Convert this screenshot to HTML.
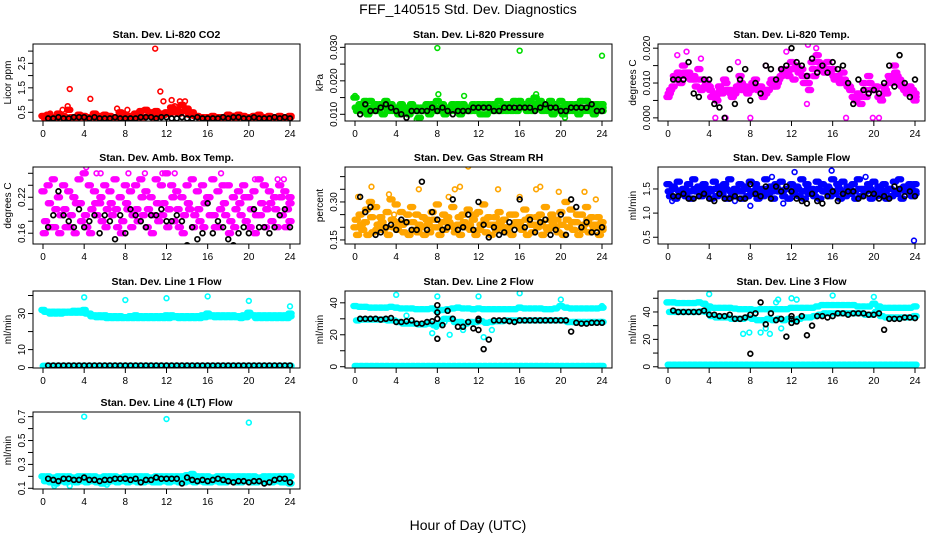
<!DOCTYPE html>
<html><head><meta charset="utf-8"><style>
body{margin:0;background:#fff}
svg{display:block;font-family:"Liberation Sans",sans-serif}
</style></head><body>
<svg id="chart" width="936" height="540" viewBox="0 0 936 540">
<rect width="936" height="540" fill="#fff"/>
<text x="468" y="14" font-size="14" text-anchor="middle">FEF_140515  Std. Dev. Diagnostics</text>
<text x="468" y="530" font-size="14" text-anchor="middle">Hour of Day (UTC)</text>
</svg>
<script>
const xTicks=[0,4,8,12,16,20,24];
// P1 CO2
const p1Red=[0.35,0.4,0.3,0.45,0.35,0.6,0.3,0.4,0.35,0.3,0.45,0.35,0.4,0.35,0.3,0.5,0.4,0.35,0.45,0.55,0.6,0.5,0.55,0.45,0.5,0.7,0.6,0.8,0.65,0.5,0.35,0.3,0.3,0.35,0.3,0.3,0.4,0.35,0.4,0.35,0.3,0.35,0.4,0.3,0.35,0.3,0.35,0.3,0.35];
const p1RedB=[0.25,0.3,0.25,0.3,0.25,0.3,0.25,0.3,0.25,0.3,0.25,0.3,0.25,0.3,0.3,0.25,0.3,0.25,0.3,0.3,0.35,0.3,0.35,0.4,0.45,0.5,0.45,0.55,0.4,0.35,0.3,0.25,0.3,0.25,0.3,0.25,0.3,0.25,0.3,0.25,0.3,0.25,0.3,0.25,0.3,0.25,0.3,0.25,0.3];
const p1OutX=[0.7,1.9,2.4,2.6,4.6,7.2,8.2,10.9,11.4,11.7,12.5,13.3,13.8,12.8];
const p1OutY=[0.45,0.6,0.75,1.45,1.05,0.65,0.6,3.1,1.35,0.95,1.0,0.95,0.95,0.75];
const p1Blk=[0.25,0.25,0.3,0.25,0.25,0.3,0.3,0.3,0.25,0.3,0.25,0.25,0.25,0.3,0.25,0.25,0.25,0.25,0.3,0.3,0.3,0.25,0.3,0.3,0.25,0.25,0.3,0.25,0.25,0.3,0.25,0.25,0.25,0.25,0.3,0.25,0.3,0.3,0.25,0.25,0.3,0.25,0.25,0.25,0.3,0.25,0.3,0.25];
// P2 pressure
const p2A=[0.015,0.013,0.014,0.014,0.013,0.013,0.014,0.013,0.012,0.013,0.012,0.013,0.012,0.012,0.013,0.013,0.014,0.013,0.012,0.013,0.013,0.013,0.012,0.013,0.013,0.013,0.013,0.013,0.014,0.013,0.013,0.014,0.014,0.013,0.014,0.015,0.014,0.013,0.014,0.013,0.014,0.013,0.013,0.013,0.014,0.014,0.013,0.013,0.013];
const p2B=[0.011,0.011,0.010,0.011,0.011,0.010,0.011,0.011,0.010,0.011,0.010,0.011,0.009,0.011,0.010,0.011,0.011,0.010,0.011,0.011,0.010,0.011,0.011,0.011,0.010,0.010,0.011,0.011,0.011,0.011,0.011,0.011,0.012,0.011,0.011,0.012,0.011,0.011,0.010,0.011,0.010,0.011,0.011,0.010,0.011,0.011,0.010,0.011,0.011];
const p2C=[0.012,0.012,0.012,0.012,0.012,0.012,0.012,0.012,0.011,0.012,0.011,0.012,0.011,0.011,0.012,0.012,0.012,0.012,0.011,0.012,0.012,0.012,0.011,0.012,0.012,0.012,0.012,0.012,0.012,0.012,0.012,0.012,0.013,0.012,0.012,0.013,0.012,0.012,0.012,0.012,0.012,0.012,0.012,0.012,0.012,0.012,0.012,0.012,0.012];
const p2OutX=[0,8,8.1,16,24,17.6,6,10.6,20.4];
const p2OutY=[0.0155,0.0298,0.016,0.029,0.0275,0.016,0.0085,0.0155,0.009];
const p2Blk=[0.010,0.013,0.011,0.011,0.012,0.013,0.012,0.011,0.010,0.009,0.011,0.011,0.011,0.011,0.012,0.011,0.012,0.011,0.010,0.011,0.011,0.011,0.012,0.012,0.012,0.012,0.011,0.011,0.012,0.012,0.012,0.012,0.012,0.012,0.011,0.012,0.013,0.012,0.012,0.011,0.011,0.012,0.012,0.012,0.012,0.013,0.011,0.011];
// P3 Li-820 temp
const p3A=[0.006,0.009,0.013,0.015,0.013,0.012,0.014,0.011,0.009,0.007,0.009,0.011,0.008,0.007,0.012,0.009,0.008,0.011,0.009,0.007,0.010,0.009,0.012,0.014,0.016,0.015,0.014,0.012,0.016,0.018,0.015,0.016,0.014,0.012,0.013,0.009,0.006,0.007,0.010,0.012,0.008,0.006,0.009,0.012,0.015,0.011,0.008,0.009,0.006];
const p3B=[0.008,0.011,0.010,0.012,0.011,0.009,0.008,0.010,0.006,0.005,0.007,0.008,0.006,0.009,0.008,0.007,0.010,0.008,0.006,0.008,0.009,0.011,0.013,0.012,0.011,0.013,0.010,0.008,0.012,0.014,0.013,0.013,0.011,0.010,0.010,0.008,0.005,0.004,0.006,0.008,0.009,0.005,0.007,0.010,0.012,0.009,0.007,0.008,0.005];
const p3C=[0.007,0.012,0.012,0.013,0.012,0.011,0.011,0.009,0.008,0.006,0.008,0.010,0.007,0.008,0.010,0.008,0.009,0.009,0.008,0.008,0.011,0.010,0.014,0.013,0.014,0.014,0.012,0.010,0.014,0.016,0.014,0.014,0.012,0.011,0.011,0.009,0.006,0.006,0.008,0.010,0.008,0.006,0.008,0.011,0.013,0.010,0.008,0.008,0.007];
const p3OutX=[4.6,5.6,8,17.3,19.9,20.5,6.8,13.6,14.4,13.5,0.9,1.8,3.2,9.5,11.5];
const p3OutY=[0,0,0,0,0,0,0.016,0.021,0.02,0.004,0.018,0.019,0.017,0.015,0.019];
const p3Blk=[0.011,0.011,0.011,0.016,0.007,0.006,0.011,0.011,0.004,0.003,0.0,0.014,0.004,0.011,0.014,0.005,0.010,0.007,0.015,0.014,0.011,0.014,0.015,0.020,0.016,0.015,0.012,0.017,0.013,0.015,0.013,0.016,0.014,0.015,0.010,0.004,0.011,0.008,0.007,0.008,0.007,0.010,0.015,0.009,0.018,0.010,0.006,0.011];
// P4 amb box temp
const p4A=[0.23,0.24,0.25,0.22,0.24,0.23,0.22,0.25,0.26,0.24,0.23,0.21,0.24,0.23,0.25,0.22,0.24,0.23,0.24,0.25,0.23,0.22,0.25,0.24,0.26,0.24,0.23,0.22,0.24,0.25,0.23,0.24,0.22,0.25,0.23,0.24,0.24,0.22,0.23,0.24,0.22,0.23,0.25,0.24,0.23,0.22,0.24,0.23,0.22];
const p4B=[0.18,0.17,0.20,0.19,0.17,0.19,0.21,0.18,0.17,0.20,0.19,0.18,0.20,0.19,0.17,0.18,0.20,0.19,0.18,0.19,0.20,0.19,0.18,0.21,0.20,0.18,0.17,0.19,0.20,0.19,0.18,0.21,0.19,0.17,0.20,0.19,0.18,0.20,0.19,0.18,0.20,0.19,0.21,0.20,0.18,0.17,0.19,0.20,0.18];
const p4C=[0.16,0.21,0.17,0.16,0.20,0.17,0.16,0.21,0.19,0.16,0.21,0.22,0.17,0.21,0.20,0.16,0.21,0.17,0.20,0.22,0.17,0.16,0.21,0.19,0.17,0.22,0.20,0.16,0.21,0.17,0.20,0.17,0.22,0.19,0.17,0.21,0.16,0.17,0.21,0.22,0.17,0.16,0.19,0.17,0.21,0.20,0.22,0.17,0.21];
const p4OutX=[4.2,5.2,5.6,8.3,9.9,11.6,12.8,16.5,17.3,20.6,22.8,23.4];
const p4OutY=[0.27,0.26,0.26,0.26,0.26,0.26,0.26,0.25,0.26,0.25,0.25,0.25];
const p4Blk=[0.17,0.19,0.23,0.19,0.18,0.17,0.20,0.17,0.18,0.19,0.16,0.19,0.18,0.15,0.19,0.16,0.20,0.19,0.18,0.17,0.19,0.19,0.20,0.18,0.18,0.19,0.18,0.14,0.17,0.15,0.16,0.21,0.16,0.18,0.17,0.15,0.14,0.16,0.17,0.16,0.20,0.17,0.17,0.16,0.17,0.19,0.20,0.17];
// P5 RH
const p5A=[0.20,0.25,0.22,0.30,0.28,0.24,0.20,0.31,0.29,0.26,0.22,0.28,0.25,0.20,0.23,0.26,0.29,0.22,0.24,0.28,0.21,0.25,0.27,0.23,0.26,0.29,0.24,0.21,0.26,0.23,0.20,0.25,0.22,0.27,0.24,0.21,0.25,0.28,0.23,0.20,0.26,0.30,0.27,0.22,0.25,0.28,0.24,0.21,0.20];
const p5B=[0.17,0.19,0.17,0.18,0.21,0.19,0.17,0.20,0.22,0.18,0.17,0.19,0.21,0.17,0.18,0.20,0.17,0.19,0.21,0.18,0.17,0.20,0.19,0.17,0.21,0.18,0.17,0.19,0.20,0.18,0.17,0.21,0.19,0.17,0.18,0.20,0.17,0.19,0.21,0.18,0.17,0.20,0.19,0.17,0.21,0.18,0.20,0.17,0.19];
const p5C=[0.23,0.21,0.27,0.24,0.19,0.22,0.26,0.23,0.19,0.21,0.25,0.22,0.18,0.24,0.21,0.23,0.20,0.25,0.22,0.20,0.24,0.22,0.21,0.25,0.19,0.23,0.21,0.24,0.22,0.20,0.25,0.22,0.20,0.23,0.21,0.24,0.22,0.20,0.25,0.23,0.21,0.23,0.22,0.25,0.19,0.23,0.21,0.24,0.22];
const p5OutX=[0.3,1.6,3.3,6.2,9.7,10.2,11,13.9,16,17.6,18,19.8,22.3,23.4,3.8,9.1];
const p5OutY=[0.32,0.36,0.33,0.35,0.35,0.36,0.44,0.35,0.32,0.35,0.36,0.34,0.34,0.31,0.25,0.32];
const p5Blk=[0.32,0.26,0.28,0.17,0.18,0.20,0.21,0.19,0.23,0.22,0.19,0.19,0.38,0.19,0.26,0.23,0.19,0.20,0.31,0.19,0.20,0.25,0.19,0.30,0.21,0.16,0.20,0.17,0.18,0.22,0.19,0.31,0.20,0.23,0.18,0.22,0.23,0.17,0.19,0.25,0.17,0.31,0.28,0.20,0.22,0.18,0.18,0.20];
// P6 sample flow
const p6A=[1.6,1.55,1.65,1.5,1.6,1.7,1.55,1.6,1.5,1.65,1.55,1.6,1.7,1.5,1.6,1.55,1.65,1.6,1.5,1.7,1.55,1.6,1.65,1.5,1.6,1.55,1.7,1.6,1.5,1.65,1.6,1.55,1.7,1.6,1.65,1.55,1.6,1.7,1.5,1.6,1.65,1.55,1.6,1.5,1.65,1.7,1.55,1.6,1.6];
const p6B=[1.35,1.3,1.4,1.35,1.3,1.45,1.35,1.4,1.3,1.35,1.4,1.3,1.35,1.45,1.3,1.35,1.4,1.3,1.35,1.4,1.3,1.45,1.35,1.3,1.4,1.35,1.3,1.4,1.35,1.3,1.45,1.35,1.4,1.3,1.35,1.4,1.3,1.35,1.45,1.3,1.35,1.4,1.3,1.35,1.4,1.3,1.45,1.35,1.4];
const p6C=[1.45,1.5,1.45,1.5,1.45,1.5,1.45,1.5,1.45,1.5,1.45,1.5,1.45,1.5,1.45,1.5,1.45,1.5,1.45,1.5,1.45,1.5,1.45,1.5,1.45,1.5,1.45,1.5,1.45,1.5,1.45,1.5,1.45,1.5,1.45,1.5,1.45,1.5,1.45,1.5,1.45,1.5,1.45,1.5,1.45,1.5,1.45,1.5,1.45];
const p6OutX=[8,12.3,15.9,10.1,11.2,0.4,23.9,6.5,19.2];
const p6OutY=[1.15,1.85,1.88,1.75,1.2,1.25,0.43,1.25,1.75];
const p6Blk=[1.35,1.35,1.4,1.3,1.3,1.35,1.4,1.3,1.25,1.4,1.3,1.3,1.35,1.3,1.3,1.6,1.4,1.35,1.55,1.3,1.55,1.45,1.55,1.45,1.3,1.25,1.2,1.4,1.25,1.2,1.35,1.45,1.25,1.4,1.45,1.45,1.3,1.35,1.4,1.4,1.3,1.35,1.3,1.55,1.5,1.35,1.45,1.35];
// P7 line 1
const p7A=[32,31,31,31,31,31,31.5,31.5,32,30,29,29,29,28.5,28.5,28.5,28,28.5,29,28.5,28.5,28.5,28.5,28.5,29,29,28.5,28.5,28.5,28.5,28.5,29,30,29,29,29,29,29,28.5,29,30.5,29,29,29,29,29,29,29,30];
const p7B=[31,30,30,30,30.5,30.5,30.5,30.5,30,28.5,28,28,27.5,27.5,27.5,27.5,27.5,27.5,27.5,27.5,27.5,27.5,27.5,27.5,27.5,28,27.5,27.5,27.5,27.5,27.5,28,28.5,28,28,28,28,28,27.5,28,29,27.5,27.5,27.5,27.5,27.5,27.5,27.5,28.5];
const p7C=[1,1,1,1,1,1,1,1,1,1,1,1,1,1,1,1,1,1,1,1,1,1,1,1,1,1,1,1,1,1,1,1,1,1,1,1,1,1,1,1,1,1,1,1,1,1,1,1,1];
const p7OutX=[4,8,12,16,20,24];
const p7OutY=[39,37.5,38.5,39.5,37,34];
const p7Blk=[1.2,1.2,1.2,1.2,1.2,1.2,1.2,1.2,1.2,1.2,1.2,1.2,1.2,1.2,1.2,1.2,1.2,1.2,1.2,1.2,1.2,1.2,1.2,1.2,1.2,1.2,1.2,1.2,1.2,1.2,1.2,1.2,1.2,1.2,1.2,1.2,1.2,1.2,1.2,1.2,1.2,1.2,1.2,1.2,1.2,1.2,1.2,1.2];
// P8 line 2
const p8A=[38,37.5,37.5,37,37,37,37,37.5,37,36.5,36.5,36.5,36,36,36,36.5,35,35.5,36,36.5,37,36.5,36.5,36,36.5,36,36,36,36,36,36,36,37,36.5,36.5,36.5,36.5,36,36,36.5,38,37,36.5,36.5,36.5,36.5,36.5,36.5,37];
const p8B=[29,29.5,29.5,29.5,29.5,29.5,29,29,28,27,27,27,26.5,26.5,27,26,27,30,30,28,28,27,28,28,28.5,27.5,28,28.5,28.5,29,29,29,29,29,29,29,29,29,29,29,29,28,28,28,28,28,28,28,28];
const p8C=[0.5,0.5,0.5,0.5,0.5,0.5,0.5,0.5,0.5,0.5,0.5,0.5,0.5,0.5,0.5,0.5,0.5,0.5,0.5,0.5,0.5,0.5,0.5,0.5,0.5,0.5,0.5,0.5,0.5,0.5,0.5,0.5,0.5,0.5,0.5,0.5,0.5,0.5,0.5,0.5,0.5,0.5,0.5,0.5,0.5,0.5,0.5,0.5,0.5];
const p8OutX=[4,8,12,16,20,24,7.5,9.2,12.5,13.3,7.9,10.5,8.7,5];
const p8OutY=[45,44,44,46,42,38,21,20,18.5,23,25,23,28,32];
const p8Blk=[30,30,30,30,29.5,30,30.5,28,28,28.5,29,27,27,28,28.5,30,26,35,30,25,25,28,24,29,11,17,29,29,29,28.5,28,29,29,29,29,29,29,29,29,29,29,22,27.5,27,27,27.5,27.5,27.5];
const p8BlkOutX=[8,8,8,12,12];
const p8BlkOutY=[34,38.5,17.5,23,30];
// P9 line 3
const p9A=[47,47,46.5,46.5,46.5,46.5,47,46,44,43,43,43,43,42.5,42,42,42,41.5,42,42,42,42,42,42,43,43,43,43,43,44,45,45,45,45,45,45,45,44,44,44,46,44,43,43,43,43,43,43,44];
const p9B=[40,40,40,40,40,40,40.5,40,37,36,36,36,35,35,35,36,35,34,34,35,34,35,34,35,34,35,36,36,37,38,39,39,39,39,39,39,39,39,38,38,40,37,36,36,36,36,36,36,37];
const p9C=[1.5,1.5,1.5,1.5,1.5,1.5,1.5,1.5,1.5,1.5,1.5,1.5,1.5,1.5,1.5,1.5,1.5,1.5,1.5,1.5,1.5,1.5,1.5,1.5,1.5,1.5,1.5,1.5,1.5,1.5,1.5,1.5,1.5,1.5,1.5,1.5,1.5,1.5,1.5,1.5,1.5,1.5,1.5,1.5,1.5,1.5,1.5,1.5,1.5];
const p9OutX=[4,7.3,7.9,9,9.9,10.5,10.7,12,12.5,16,20,24,11,9.5];
const p9OutY=[53,24,25,25,24,47,49,50,49,52,51,44,28,28];
const p9Blk=[41,40,40,40,40,40,41,38,38,37,37,38,35,35,36,38,39,47,31,39,34,35,22,35,33,37,23,30,37,37,36,37,39,39,38,39,39,39,38,38,39,27,35,35,35,36,36,35.5];
const p9BlkOutX=[8,12,12];
const p9BlkOutY=[9.5,37,32];
// P10 line 4
const p10A=[0.2,0.2,0.19,0.2,0.2,0.2,0.19,0.2,0.2,0.2,0.2,0.19,0.2,0.2,0.2,0.19,0.2,0.2,0.2,0.2,0.2,0.19,0.2,0.2,0.2,0.2,0.2,0.2,0.21,0.22,0.2,0.2,0.2,0.19,0.2,0.2,0.2,0.2,0.2,0.2,0.2,0.2,0.19,0.2,0.2,0.2,0.2,0.2,0.2];
const p10B=[0.16,0.15,0.14,0.16,0.15,0.16,0.15,0.16,0.15,0.16,0.15,0.14,0.15,0.16,0.15,0.16,0.15,0.16,0.15,0.15,0.16,0.15,0.15,0.16,0.15,0.16,0.15,0.15,0.16,0.15,0.16,0.15,0.15,0.16,0.15,0.15,0.16,0.15,0.15,0.16,0.15,0.15,0.16,0.15,0.15,0.16,0.15,0.15,0.14];
const p10OutX=[4,12,20,1.1,2.6,6.2];
const p10OutY=[0.7,0.68,0.65,0.12,0.12,0.13];
const p10Blk=[0.18,0.17,0.16,0.18,0.18,0.17,0.17,0.19,0.17,0.17,0.16,0.17,0.17,0.18,0.18,0.18,0.17,0.18,0.15,0.17,0.17,0.19,0.18,0.18,0.18,0.18,0.14,0.19,0.17,0.16,0.17,0.16,0.17,0.18,0.17,0.16,0.15,0.16,0.16,0.15,0.16,0.16,0.14,0.15,0.17,0.18,0.18,0.15];

const NS='http://www.w3.org/2000/svg';
const svg=document.getElementById('chart');
function mk(tag,attrs,parent){const e=document.createElementNS(NS,tag);for(const k in attrs)e.setAttribute(k,attrs[k]);(parent||svg).appendChild(e);return e;}
const colL=[33,345,658], colW=267;
const rowT=[44,167,291,412], rowH=77;
const offs=[0,0.25,0.125];
const panels=[
 {t:'Stan. Dev. Li-820 CO2',yl:'Licor ppm',c:0,r:0,d:[0.145,3.29],ticks:[0.5,1,1.5,2,2.5,3],labs:['0.5',null,'1.5',null,'2.5',null],col:'#ff0000',cs:[p1Red,p1RedB],ox:p1OutX,oy:p1OutY,blk:p1Blk},
 {t:'Stan. Dev. Li-820 Pressure',yl:'kPa',c:1,r:0,d:[0.008,0.031],ticks:[0.01,0.015,0.02,0.025,0.03],labs:['0.010',null,'0.020',null,'0.030'],col:'#00dd00',cs:[p2A,p2B,p2C],ox:p2OutX,oy:p2OutY,blk:p2Blk},
 {t:'Stan. Dev. Li-820 Temp.',yl:'degrees C',c:2,r:0,d:[-0.0009,0.0212],ticks:[0,0.005,0.01,0.015,0.02],labs:['0.000',null,'0.010',null,'0.020'],col:'#ff00ff',cs:[p3A,p3B,p3C],ox:p3OutX,oy:p3OutY,blk:p3Blk},
 {t:'Stan. Dev. Amb. Box Temp.',yl:'degrees C',c:0,r:1,d:[0.142,0.2705],ticks:[0.16,0.18,0.2,0.22,0.24,0.26],labs:['0.16',null,null,'0.22',null,null],col:'#ff00ff',cs:[p4A,p4B,p4C],ox:p4OutX,oy:p4OutY,blk:p4Blk},
 {t:'Stan. Dev. Gas Stream RH',yl:'percent',c:1,r:1,d:[0.134,0.438],ticks:[0.15,0.2,0.25,0.3,0.35,0.4],labs:['0.15',null,null,'0.30',null,null],col:'#ffa500',cs:[p5A,p5B,p5C],ox:p5OutX,oy:p5OutY,blk:p5Blk},
 {t:'Stan. Dev. Sample Flow',yl:'ml/min',c:2,r:1,d:[0.36,1.955],ticks:[0.5,1,1.5],labs:['0.5','1.0','1.5'],col:'#0000ff',cs:[p6A,p6B,p6C],ox:p6OutX,oy:p6OutY,blk:p6Blk},
 {t:'Stan. Dev. Line 1 Flow',yl:'ml/min',c:0,r:2,d:[-0.2,42.5],ticks:[0,10,20,30,40],labs:['0','10',null,'30',null],col:'#00ffff',cs:[p7A,p7B,p7C],ox:p7OutX,oy:p7OutY,blk:p7Blk},
 {t:'Stan. Dev. Line 2 Flow',yl:'ml/min',c:1,r:2,d:[-0.8,47.4],ticks:[0,10,20,30,40],labs:['0',null,'20',null,'40'],col:'#00ffff',cs:[p8A,p8B,p8C],ox:p8OutX,oy:p8OutY,blk:p8Blk,bx:p8BlkOutX,by:p8BlkOutY},
 {t:'Stan. Dev. Line 3 Flow',yl:'ml/min',c:2,r:2,d:[-0.9,55.3],ticks:[0,10,20,30,40,50],labs:['0',null,'20',null,'40',null],col:'#00ffff',cs:[p9A,p9B,p9C],ox:p9OutX,oy:p9OutY,blk:p9Blk,bx:p9BlkOutX,by:p9BlkOutY},
 {t:'Stan. Dev. Line 4 (LT) Flow',yl:'ml/min',c:0,r:3,d:[0.094,0.739],ticks:[0.1,0.2,0.3,0.4,0.5,0.6,0.7],labs:['0.1',null,'0.3',null,'0.5',null,'0.7'],col:'#00ffff',cs:[p10A,p10B],ox:p10OutX,oy:p10OutY,blk:p10Blk}
];
panels.forEach((p,pi)=>{
 const L=colL[p.c],T=rowT[p.r],R=L+colW,B=T+rowH;
 const g=mk('g',{});
 
 
 const xs=h=>L+10+h/24*(colW-20);
 const ys=v=>B-(v-p.d[0])/(p.d[1]-p.d[0])*rowH;
 const ttl=mk('text',{x:(L+R)/2,y:T-6,'font-size':10.5,'font-weight':'bold','text-anchor':'middle'},g);
 ttl.textContent=p.t;
 
 
 const yt=mk('text',{transform:`translate(${L-22},${(T+B)/2}) rotate(-90)`,'font-size':10,'text-anchor':'middle'},g);
 yt.textContent=p.yl;
 
 
 mk('line',{x1:xs(0),x2:xs(24),y1:B,y2:B,stroke:'#000'},g);
 xTicks.forEach(h=>{
  mk('line',{x1:xs(h),x2:xs(h),y1:B,y2:B+5,stroke:'#000'},g);
  const tl=mk('text',{x:xs(h),y:B+16,'font-size':10,'text-anchor':'middle'},g);
  tl.textContent=h;
  
  
 });
 mk('line',{x1:L,x2:L,y1:ys(p.ticks[0]),y2:ys(p.ticks[p.ticks.length-1]),stroke:'#000'},g);
 p.ticks.forEach((v,i)=>{
  mk('line',{x1:L-5,x2:L,y1:ys(v),y2:ys(v),stroke:'#000'},g);
  if(p.labs[i]){
   const tl=mk('text',{transform:`translate(${L-8},${ys(v)}) rotate(-90)`,'font-size':10,'text-anchor':'middle'},g);
   tl.textContent=p.labs[i];
   
   
  }
 });
 const clip='clip'+pi;
 const cp=mk('clipPath',{id:clip},g);mk('rect',{x:L,y:T,width:colW,height:rowH},cp);
 const pts=mk('g',{'clip-path':`url(#${clip})`},g);
 const bw=xs(0.5)-xs(0);
 p.cs.forEach((arr,k)=>{
  arr.forEach((v,i)=>{
   const h=Math.min(24,i*0.5+offs[k]);
   const c=mk('rect',{x:xs(h)-bw/2-1.5,y:ys(v)-2.5,width:bw+3,height:5,rx:2.5,fill:p.col,stroke:p.col,'stroke-width':1.4},pts);
   
   
  });
 });
 p.ox.forEach((h,i)=>{
  const c=mk('circle',{cx:xs(h),cy:ys(p.oy[i]),r:2.4,fill:'none',stroke:p.col,'stroke-width':1.6},pts);
  
  
 });
 p.blk.forEach((v,i)=>{
  const c=mk('circle',{cx:xs(0.5+i*0.5),cy:ys(v),r:2.4,fill:'none',stroke:'#000','stroke-width':1.7},pts);
  
  
 });
 if(p.bx)p.bx.forEach((h,i)=>{
  const c=mk('circle',{cx:xs(h),cy:ys(p.by[i]),r:2.4,fill:'none',stroke:'#000','stroke-width':1.7},pts);
  
  
 });
 mk('rect',{x:L,y:T,width:colW,height:rowH,fill:'none',stroke:'#000'},g);
});
</script>
</body></html>
